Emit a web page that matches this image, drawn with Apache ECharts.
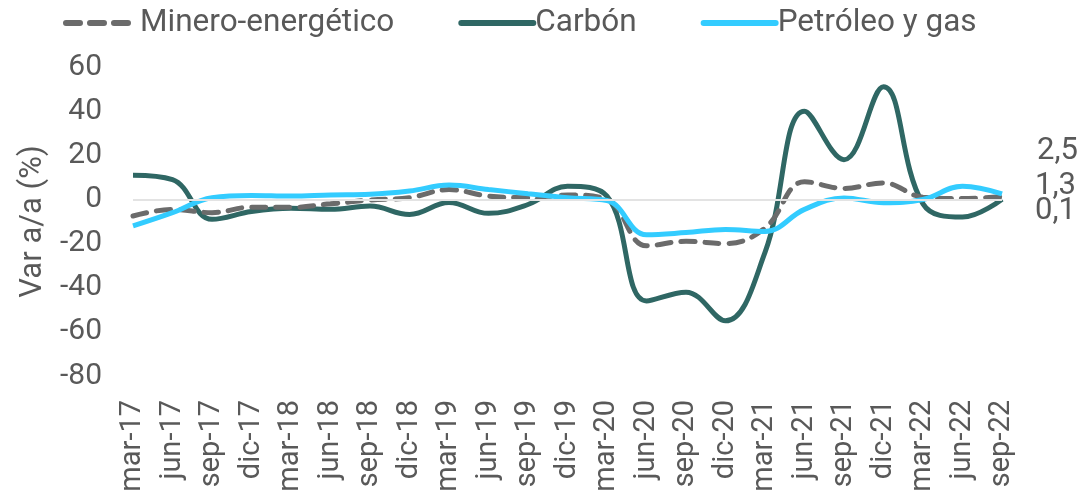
<!DOCTYPE html>
<html>
<head>
<meta charset="utf-8">
<script src="https://cdn.jsdelivr.net/npm/echarts@6/dist/echarts.min.js"></script>
<style>
html,body{margin:0;padding:0;background:#fff;}
#chart{width:1082px;height:503px;}
</style>
</head>
<body>
<div id="chart"></div>
<script>
const categories = ['mar-17','jun-17','sep-17','dic-17','mar-18','jun-18','sep-18','dic-18','mar-19','jun-19','sep-19','dic-19','mar-20','jun-20','sep-20','dic-20','mar-21','jun-21','sep-21','dic-21','mar-22','jun-22','sep-22'];
const mineroEnergetico = [-7.5,-4.5,-6,-3.5,-3.6,-2,-0.3,0.8,4.5,1.5,0.8,2,0,-21,-19,-20,-13,8,5,7.5,1,0.4,1.3];
const carbon = [11,9,-9,-5.5,-4,-4.5,-3,-6.8,-1.4,-6.3,-2.3,6,1.5,-46,-42,-55,-24,40,18,51,-2,-8,0.1];
const petroleoGas = [-12,-6,0.8,1.8,1.5,2,2.3,3.8,6.5,4.5,2.6,0.8,-0.5,-16,-15,-13.6,-14.5,-4.5,0.7,-1.5,0,6,2.5];
const seriesNames = ['Minero-energético','Carbón','Petróleo y gas'];
const endLabels = ['2,5','1,3','0,1'];
const yTicks = {min:-80, max:60, interval:20};

const textColor = '#595959';
const chart = echarts.init(document.getElementById('chart'));
chart.setOption({
  animation:false,
  textStyle:{fontFamily:'Roboto'},
  legend:{
    top:2, left:58,
    itemWidth:72, itemHeight:14, itemGap:64,
    itemStyle:{opacity:0},
    lineStyle:{width:6, cap:'round'},
    textStyle:{fontSize:31.5, color:textColor, fontFamily:'Roboto', padding:[0,0,0,-3]},
    data:seriesNames
  },
  grid:{left:133, right:80, top:67, bottom:127},
  xAxis:{
    type:'category', data:categories, boundaryGap:false,
    axisLine:{show:false}, axisTick:{show:false}, splitLine:{show:false},
    axisLabel:{rotate:90, interval:0, margin:24, fontSize:29, color:textColor, fontFamily:'Roboto'}
  },
  yAxis:{
    type:'value', min:yTicks.min, max:yTicks.max, interval:yTicks.interval,
    axisLine:{show:false}, axisTick:{show:false}, splitLine:{show:false},
    axisLabel:{fontSize:30, color:textColor, margin:31, fontFamily:'Roboto'},
    name:'Var a/a (%)', nameLocation:'middle', nameRotate:90, nameGap:80,
    nameTextStyle:{fontSize:31, color:textColor, fontFamily:'Roboto'}
  },
  series:[
    {name:seriesNames[0], type:'line', data:mineroEnergetico, smooth:0.4, symbol:'none', z:3,
     lineStyle:{color:'#6b6b6b', width:5, type:[14,10], cap:'round'}, itemStyle:{color:'#6b6b6b'},
     markLine:{silent:true, symbol:'none', label:{show:false}, lineStyle:{color:'#e3e3e3', width:2, type:'solid'}, data:[{yAxis:0}]}},
    {name:seriesNames[1], type:'line', data:carbon, smooth:0.4, symbol:'none', z:2,
     lineStyle:{color:'#2f6764', width:5}, itemStyle:{color:'#2f6764'}},
    {name:seriesNames[2], type:'line', data:petroleoGas, smooth:0.4, symbol:'none', z:4,
     lineStyle:{color:'#33ccff', width:5}, itemStyle:{color:'#33ccff'}}
  ],
  graphic:[
    {type:'text', left:1037, top:136, style:{text:endLabels[0], fontSize:31, fill:textColor, fontFamily:'Roboto'}},
    {type:'text', left:1035, top:171, style:{text:endLabels[1], fontSize:31, fill:textColor, fontFamily:'Roboto'}},
    {type:'text', left:1035, top:196, style:{text:endLabels[2], fontSize:31, fill:textColor, fontFamily:'Roboto'}}
  ]
});
</script>
</body>
</html>
